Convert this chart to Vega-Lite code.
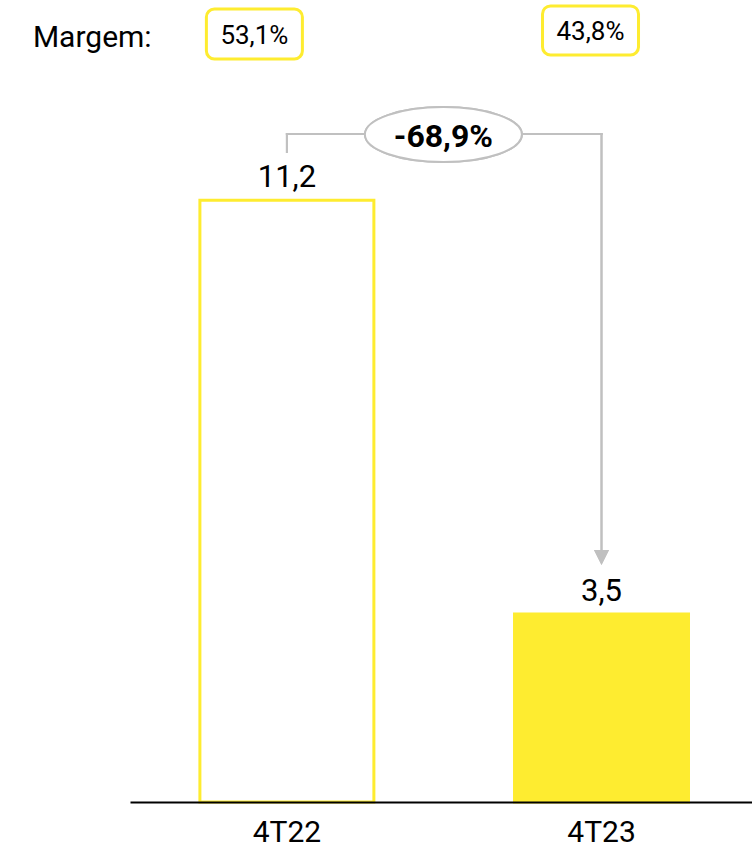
{
  "$schema": "https://vega.github.io/schema/vega-lite/v6.json",
  "width": 622,
  "height": 802,
  "autosize": {"type": "none"},
  "padding": {"left": 130, "top": 0, "right": 0, "bottom": 48},
  "background": "white",
  "config": {"view": {"stroke": null}, "font": "Roboto"},
  "data": {
    "values": [
      {"cat": "4T22", "value": 11.2, "label": "11,2", "margem": "53,1%"},
      {"cat": "4T23", "value": 3.5, "label": "3,5", "margem": "43,8%", "variacao": "-68,9%"}
    ]
  },
  "layer": [
    {
      "mark": {"type": "bar", "stroke": "#FEEC30", "strokeWidth": 3},
      "encoding": {
        "x": {
          "field": "cat", "type": "nominal", "title": null,
          "scale": {"domain": ["4T22", "4T23"], "paddingInner": 0.447, "paddingOuter": 0.212, "align": 0.524},
          "axis": {"domain": true, "domainColor": "#000000", "domainWidth": 2, "ticks": false, "labelFontSize": 30, "labelColor": "#000000", "labelAngle": 0, "labelBaseline": "middle", "labelPadding": 30, "zindex": 1, "labelFont": "Roboto", "title": null}
        },
        "y": {"field": "value", "type": "quantitative", "scale": {"domain": [0, 14.93], "nice": false, "zero": true}, "axis": null},
        "fill": {"field": "cat", "type": "nominal", "scale": {"domain": ["4T22", "4T23"], "range": ["#FFFFFF", "#FEEC30"]}, "legend": null}
      }
    },
    {
      "mark": {"type": "text", "baseline": "alphabetic", "dy": -13, "fontSize": 31, "color": "#000000"},
      "encoding": {
        "x": {"field": "cat", "type": "nominal", "title": null},
        "y": {"field": "value", "type": "quantitative", "axis": null},
        "text": {"field": "label"}
      }
    },
    {
      "mark": {"type": "rule", "color": "#C0C0C0", "strokeWidth": 2, "strokeCap": "square"},
      "encoding": {
        "x": {"datum": "4T22", "type": "nominal", "title": null},
        "y": {"datum": 12.10, "type": "quantitative", "axis": null},
        "y2": {"datum": 12.435}
      }
    },
    {
      "mark": {"type": "rule", "color": "#C0C0C0", "strokeWidth": 2, "strokeCap": "square"},
      "encoding": {
        "x": {"datum": "4T22", "type": "nominal", "title": null},
        "x2": {"datum": "4T23"},
        "y": {"datum": 12.435, "type": "quantitative", "axis": null}
      }
    },
    {
      "mark": {"type": "rule", "color": "#C0C0C0", "strokeWidth": 2, "strokeCap": "square"},
      "encoding": {
        "x": {"datum": "4T23", "type": "nominal", "title": null},
        "y": {"datum": 12.435, "type": "quantitative", "axis": null},
        "y2": {"datum": 4.6}
      }
    },
    {
      "mark": {"type": "point", "shape": "M-1,-1L1,-1L0,1Z", "size": 225, "filled": true, "fill": "#C0C0C0", "opacity": 1, "strokeWidth": 0},
      "encoding": {
        "x": {"datum": "4T23", "type": "nominal", "title": null},
        "y": {"datum": 4.551, "type": "quantitative", "axis": null}
      }
    },
    {
      "mark": {"type": "point", "shape": "M-1,0A1,0.35 0 1,1 1,0A1,0.35 0 1,1 -1,0Z", "size": 24649, "filled": true, "fill": "#FFFFFF", "stroke": "#C0C0C0", "strokeWidth": 2, "fillOpacity": 1, "strokeOpacity": 1, "xOffset": 156.5},
      "encoding": {
        "x": {"datum": "4T22", "type": "nominal", "title": null},
        "y": {"datum": 12.426, "type": "quantitative", "axis": null}
      }
    },
    {
      "transform": [{"filter": "datum.cat === '4T23'"}],
      "mark": {"type": "text", "baseline": "alphabetic", "align": "center", "fontSize": 32, "fontWeight": "bold", "color": "#000000", "dx": 156.5},
      "encoding": {
        "x": {"datum": "4T22", "type": "nominal", "title": null},
        "y": {"datum": 12.19, "type": "quantitative", "axis": null},
        "text": {"field": "variacao"}
      }
    },
    {
      "transform": [{"filter": "datum.cat === '4T22'"}],
      "mark": {"type": "text", "baseline": "alphabetic", "align": "left", "fontSize": 30, "color": "#000000", "dx": -254},
      "encoding": {
        "x": {"datum": "4T22", "type": "nominal", "title": null},
        "y": {"datum": 14.05, "type": "quantitative", "axis": null},
        "text": {"value": "Margem:"}
      }
    },
    {
      "transform": [{"filter": "datum.cat === '4T22'"}],
      "mark": {"type": "rect", "width": 96, "xOffset": -32.5, "fill": "#FFFFFF", "stroke": "#FEEC30", "strokeWidth": 3, "cornerRadius": 8},
      "encoding": {
        "x": {"datum": "4T22", "type": "nominal", "title": null},
        "y": {"datum": 14.763, "type": "quantitative", "axis": null},
        "y2": {"datum": 13.833}
      }
    },
    {
      "transform": [{"filter": "datum.cat === '4T23'"}],
      "mark": {"type": "rect", "width": 96, "xOffset": -11, "fill": "#FFFFFF", "stroke": "#FEEC30", "strokeWidth": 3, "cornerRadius": 8},
      "encoding": {
        "x": {"datum": "4T23", "type": "nominal", "title": null},
        "y": {"datum": 14.819, "type": "quantitative", "axis": null},
        "y2": {"datum": 13.907}
      }
    },
    {
      "transform": [{"filter": "datum.cat === '4T22'"}],
      "mark": {"type": "text", "baseline": "alphabetic", "align": "center", "fontSize": 26, "color": "#000000", "dx": -32.5},
      "encoding": {
        "x": {"field": "cat", "type": "nominal", "title": null},
        "y": {"datum": 14.12, "type": "quantitative", "axis": null},
        "text": {"field": "margem"}
      }
    },
    {
      "transform": [{"filter": "datum.cat === '4T23'"}],
      "mark": {"type": "text", "baseline": "alphabetic", "align": "center", "fontSize": 26, "color": "#000000", "dx": -11},
      "encoding": {
        "x": {"field": "cat", "type": "nominal", "title": null},
        "y": {"datum": 14.18, "type": "quantitative", "axis": null},
        "text": {"field": "margem"}
      }
    }
  ]
}
